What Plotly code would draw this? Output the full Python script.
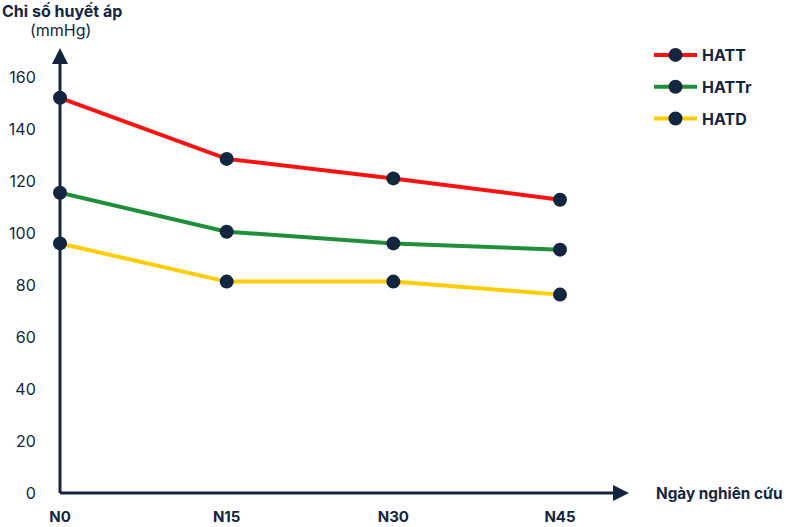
import plotly.graph_objects as go

days = ["N0", "N15", "N30", "N45"]
hatt = [152, 128.5, 121, 112.8]
hattr = [115.5, 100.5, 96, 93.6]
hatd = [96, 81.3, 81.3, 76.3]
y_ticks = [0, 20, 40, 60, 80, 100, 120, 140, 160]

NAVY = "#13263f"
FONT = "Inter"

fig = go.Figure()
for name, vals, col in [("HATT", hatt, "#ff1111"), ("HATTr", hattr, "#1f8f3a"), ("HATD", hatd, "#ffcc00")]:
    fig.add_trace(go.Scatter(
        x=days, y=vals, name=name, mode="lines+markers", legendgroup=name,
        line=dict(color=col, width=4),
        marker=dict(color=NAVY, size=14),
        cliponaxis=False,
    ))

L, R, T, B = 60, 157, 48, 34
W, H = 786, 527
pw = W - L - R
ph = H - T - B

fig.update_layout(
    width=W, height=H,
    margin=dict(l=L, r=R, t=T, b=B, autoexpand=False),
    plot_bgcolor="white", paper_bgcolor="white",
    font=dict(family=FONT, color=NAVY, size=15),
    xaxis=dict(
        type="category", range=[0, 3 * pw / 500], showgrid=False, zeroline=False,
        showline=False, ticks="outside", ticklen=10, tickcolor="rgba(0,0,0,0)",
        tickfont=dict(family=FONT, size=15, color=NAVY, weight="bold"), automargin=False,
    ),
    yaxis=dict(
        range=[0, ph / 2.6], tickvals=y_ticks, showgrid=False, zeroline=False,
        showline=False, ticks="outside", ticklen=20, tickcolor="rgba(0,0,0,0)",
        tickfont=dict(family=FONT, size=16, color=NAVY), automargin=False,
    ),
    legend=dict(
        x=(649 - L) / pw, xanchor="left", y=(H - B - 38) / ph, yanchor="top",
        traceorder="grouped", tracegroupgap=8, itemwidth=43,
        font=dict(family=FONT, size=16, color=NAVY, weight="bold"),
        bgcolor="rgba(0,0,0,0)",
    ),
    showlegend=True,
)

fig.add_shape(type="line", xref="paper", yref="paper", x0=0, y0=0, x1=(616 - L) / pw, y1=0,
              line=dict(color=NAVY, width=3))
fig.add_shape(type="line", xref="paper", yref="paper", x0=0, y0=0, x1=0, y1=(H - B - 60) / ph,
              line=dict(color=NAVY, width=3))
fig.add_shape(type="path", xref="paper", yref="paper", xsizemode="pixel", ysizemode="pixel",
              xanchor=(629 - L) / pw, yanchor=0,
              path="M 0 0 L -16 8 L -16 -8 Z", fillcolor=NAVY, line=dict(width=0))
fig.add_shape(type="path", xref="paper", yref="paper", xsizemode="pixel", ysizemode="pixel",
              xanchor=0, yanchor=1,
              path="M 0 0 L -8 -16 L 8 -16 Z", fillcolor=NAVY, line=dict(width=0))

fig.add_annotation(text="<b>Chỉ số huyết áp</b>", xref="paper", yref="paper",
                   x=(0 - L) / pw, y=(H - B - 11) / ph, xanchor="left", yanchor="middle",
                   showarrow=False, font=dict(family=FONT, size=16, color=NAVY))
fig.add_annotation(text="(mmHg)", xref="paper", yref="paper",
                   x=0, y=(H - B - 30) / ph, xanchor="center", yanchor="middle",
                   showarrow=False, font=dict(family=FONT, size=16, color=NAVY))
fig.add_annotation(text="<b>Ngày nghiên cứu</b>", xref="paper", yref="paper",
                   x=(654 - L) / pw, y=0, xanchor="left", yanchor="middle",
                   showarrow=False, font=dict(family=FONT, size=15.3, color=NAVY))

fig.write_html("out.html")
